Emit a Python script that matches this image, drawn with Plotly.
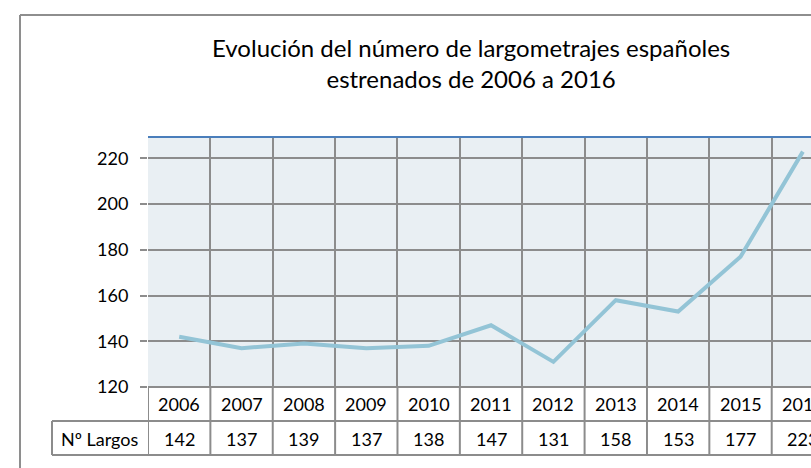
import plotly.graph_objects as go

# ---- data ----
years = ["2006", "2007", "2008", "2009", "2010", "2011", "2012", "2013", "2014", "2015", "2016"]
values = [142, 137, 139, 137, 138, 147, 131, 158, 153, 177, 223]
row_label = "Nº Largos"
y_ticks = [120, 140, 160, 180, 200, 220]
title_text = "Evolución del número de largometrajes españoles<br>estrenados de 2006 a 2016"

# ---- geometry ----
W, H = 811, 468
L, R, T, B = 148, 0, 137, 81
PW, PH = W - L - R, H - T - B

def px(xpix):
    return (xpix - L) / PW

def py(ypix):
    return (H - B - ypix) / PH

FONT = "Lato, Calibri, Carlito, sans-serif"
GRID = "#8C8C8C"
x_idx = list(range(len(years)))
bounds = [i - 0.5 for i in range(len(years) + 1)]

fig = go.Figure()
fig.add_trace(go.Scatter(
    x=x_idx, y=values, mode="lines",
    line=dict(color="#93C4D6", width=4),
    hoverinfo="skip", showlegend=False,
))

shapes = []
# outer chart frame
shapes.append(dict(type="line", xref="paper", yref="paper", x0=px(20), x1=px(20),
                   y0=py(15), y1=py(480), line=dict(color="#8E8E8E", width=2)))
shapes.append(dict(type="line", xref="paper", yref="paper", x0=px(20), x1=px(830),
                   y0=py(15), y1=py(15), line=dict(color="#8E8E8E", width=2)))
# top blue border of plot area
shapes.append(dict(type="line", xref="paper", yref="paper", x0=0, x1=1.05,
                   y0=1, y1=1, line=dict(color="#4A7EBB", width=2)))
# table: vertical lines continuing category boundaries
for b in bounds:
    shapes.append(dict(type="line", xref="x", yref="paper", x0=b, x1=b,
                       y0=py(455), y1=0, line=dict(color=GRID, width=2)))
# table horizontal lines
shapes.append(dict(type="line", xref="paper", yref="paper", x0=0, x1=1.05,
                   y0=0, y1=0, line=dict(color=GRID, width=2)))
for yy in (421, 455):
    shapes.append(dict(type="line", xref="paper", yref="paper", x0=px(52), x1=1.05,
                       y0=py(yy), y1=py(yy), line=dict(color=GRID, width=2)))
shapes.append(dict(type="line", xref="paper", yref="paper", x0=px(52), x1=px(52),
                   y0=py(421), y1=py(455), line=dict(color=GRID, width=2)))

annotations = []
annotations.append(dict(text=title_text, xref="paper", yref="paper", x=px(471), y=py(63),
                        xanchor="center", yanchor="middle", showarrow=False,
                        font=dict(family=FONT, size=24, color="#000000")))
for yr, v in zip(years, values):
    annotations.append(dict(text=yr, xref="x", yref="paper", x=years.index(yr), y=py(404),
                            xanchor="center", yanchor="middle", showarrow=False,
                            font=dict(family=FONT, size=18, color="#000000")))
    annotations.append(dict(text=str(v), xref="x", yref="paper", x=years.index(yr), y=py(439),
                            xanchor="center", yanchor="middle", showarrow=False,
                            font=dict(family=FONT, size=18, color="#000000")))
annotations.append(dict(text=row_label, xref="paper", yref="paper", x=px(100), y=py(439),
                        xanchor="center", yanchor="middle", showarrow=False,
                        font=dict(family=FONT, size=18, color="#000000")))

fig.update_layout(
    width=W, height=H, autosize=False,
    margin=dict(l=L, r=R, t=T, b=B, pad=0),
    paper_bgcolor="#FFFFFF", plot_bgcolor="#E9EFF3",
    showlegend=False,
    xaxis=dict(range=[-0.5, 10.13], tickmode="array", tickvals=bounds,
               showticklabels=False, ticks="", showgrid=True, gridcolor=GRID, gridwidth=2,
               zeroline=False, showline=False, fixedrange=True),
    yaxis=dict(range=[120, 229.4], tickmode="array", tickvals=y_ticks,
               ticktext=[str(t) for t in y_ticks],
               ticks="outside", ticklen=7, tickwidth=2, tickcolor=GRID,
               ticklabelstandoff=8,
               tickfont=dict(family=FONT, size=18, color="#000000"),
               showgrid=True, gridcolor=GRID, gridwidth=2,
               zeroline=False, showline=False, fixedrange=True),
    shapes=shapes, annotations=annotations,
)

fig.write_html("out.html", config={"displayModeBar": False},
               post_script="document.body.style.margin='0';document.body.style.overflow='hidden';")
